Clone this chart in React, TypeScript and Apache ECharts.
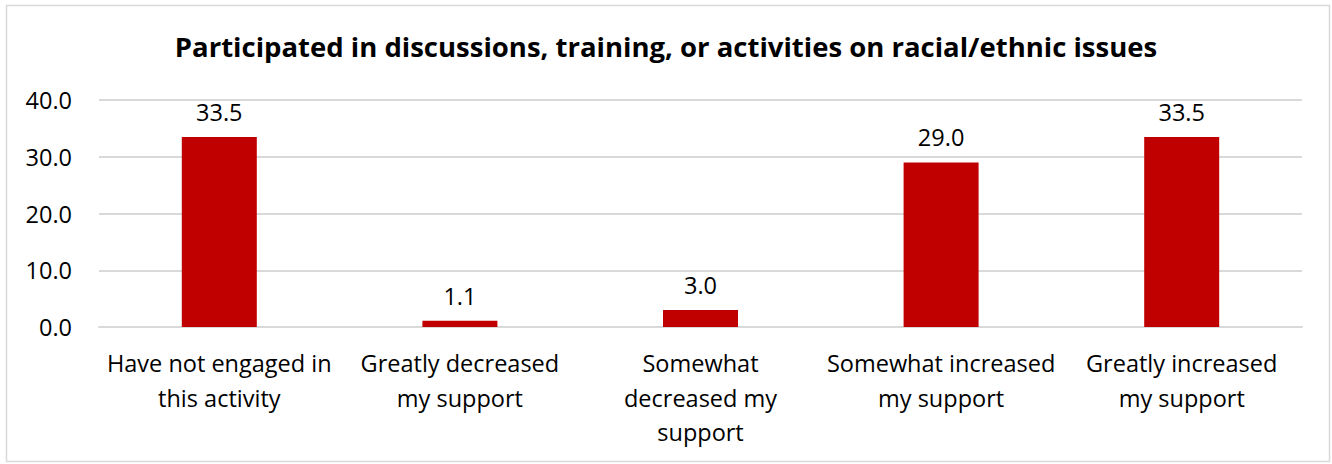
import React, { useEffect, useRef } from "react";
import * as echarts from "echarts";

const categories = [
  "Have not engaged in\nthis activity",
  "Greatly decreased\nmy support",
  "Somewhat\ndecreased my\nsupport",
  "Somewhat increased\nmy support",
  "Greatly increased\nmy support",
];
const values = [33.5, 1.1, 3.0, 29.0, 33.5];
const titleText = "Participated in discussions, training, or activities on racial/ethnic issues";

const FONT = "'Open Sans', Lato, sans-serif";

export default function App() {
  const ref = useRef<HTMLDivElement>(null);
  useEffect(() => {
    document.body.style.margin = "0";
    const chart = echarts.init(ref.current!, null, { renderer: "svg" });
    chart.setOption({
      animation: false,
      backgroundColor: "#ffffff",
      textStyle: { fontFamily: FONT },
      title: {
        text: titleText,
        left: "center",
        top: 27,
        textStyle: { fontSize: 27.5, fontWeight: "bold", color: "#000", fontFamily: FONT },
      },
      graphic: [
        {
          type: "rect",
          shape: { x: 6.5, y: 5.5, width: 1323, height: 456 },
          style: { fill: "none", stroke: "#d9d9d9", lineWidth: 1.5 },
          silent: true,
        },
      ],
      grid: { left: 99, right: 30, top: 100, bottom: 137, containLabel: false },
      xAxis: {
        type: "category",
        data: categories,
        axisLine: { show: true, lineStyle: { color: "#d9d9d9", width: 2 } },
        axisTick: { show: false },
        axisLabel: {
          color: "#000",
          fontSize: 23.5,
          lineHeight: 34.5,
          margin: 19,
          interval: 0,
          fontFamily: FONT,
        },
      },
      yAxis: {
        type: "value",
        min: 0,
        max: 40,
        interval: 10,
        axisLine: { show: false },
        axisTick: { show: false },
        splitLine: { lineStyle: { color: "#d9d9d9", width: 2 } },
        axisLabel: {
          color: "#000",
          fontSize: 23.5,
          margin: 27,
          formatter: (v: number) => v.toFixed(1),
          fontFamily: FONT,
        },
      },
      series: [
        {
          type: "bar",
          data: values,
          barWidth: 75,
          itemStyle: { color: "#C00000" },
          label: {
            show: true,
            position: "top",
            distance: 13,
            color: "#000",
            fontSize: 23.5,
            fontFamily: FONT,
            formatter: (p: any) => Number(p.value).toFixed(1),
          },
        },
      ],
    });
    return () => chart.dispose();
  }, []);
  return <div ref={ref} style={{ width: 1332, height: 464 }} />;
}
